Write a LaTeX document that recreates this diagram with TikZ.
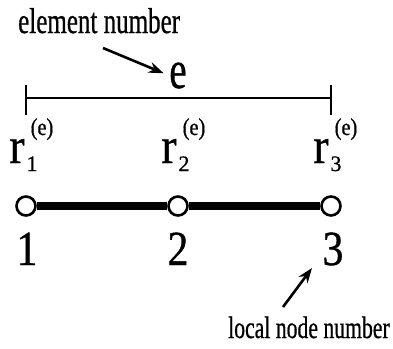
\documentclass[tikz,border=0pt]{standalone}
\usepackage{fontspec}
\setmainfont{Liberation Serif}[FakeBold=0.8]
\usetikzlibrary{arrows.meta}
\newcommand{\squeeze}[2]{\scalebox{#1}[1]{#2}}

\begin{document}
\begin{tikzpicture}[x=1pt,y=-1pt,
  lbl/.style={inner sep=0pt,anchor=base},
  nd/.style={circle,draw,line width=2.6pt,fill=white,minimum size=19pt,inner sep=0pt},
  ptr/.style={line width=2.6pt,-{Stealth[length=15pt,width=11pt]}}]
\useasboundingbox (0,0) rectangle (393,348);
% element label and bracket
\node[lbl,anchor=base west,font=\fontsize{36}{36}\selectfont] (en) at (18,33){\squeeze{0.695}{element number}};
\node[lbl,font=\fontsize{54}{54}\selectfont] (e) at (178,88){\squeeze{0.72}{e}};
\coordinate (a1) at (103,48);
\draw[ptr,shorten >=6pt] (a1) -- (e.west);
\coordinate (bl) at (26,98);
\coordinate (br) at (331,98);
\draw[line width=2.2pt] (bl) -- (br);
\draw[line width=2.2pt] (26,85) -- (26,115);
\draw[line width=2.2pt] (331,85) -- (331,115);
% nodal values
\foreach \i/\x in {1/17,2/169,3/321}{
  \node[lbl,font=\fontsize{51}{51}\selectfont] (r\i) at (\x,163){\squeeze{0.9}{r}};
  \node[lbl,font=\fontsize{22}{22}\selectfont] (s\i) at (\x+15,171){\i};
  \node[lbl,font=\fontsize{24}{24}\selectfont] (p\i) at (\x+25,135){\squeeze{0.85}{(e)}};
}
% nodes of the element
\node[nd] (n1) at (26,206){};
\node[nd] (n2) at (178,206){};
\node[nd] (n3) at (331,206){};
\draw[line width=8.5pt] (n1) -- (n2);
\draw[line width=8.5pt] (n2) -- (n3);
\foreach \i/\x in {1/27,2/178,3/333}
  \node[lbl,font=\fontsize{49}{49}\selectfont] (k\i) at (\x,265){\squeeze{0.85}{\i}};
% local numbering label
\node[lbl,anchor=base west,font=\fontsize{31}{31}\selectfont] (ln) at (228,338){\squeeze{0.7}{local node number}};
\coordinate (a2) at (283,307);
\draw[ptr] (a2) -- (312,268);
\end{tikzpicture}
\end{document}
